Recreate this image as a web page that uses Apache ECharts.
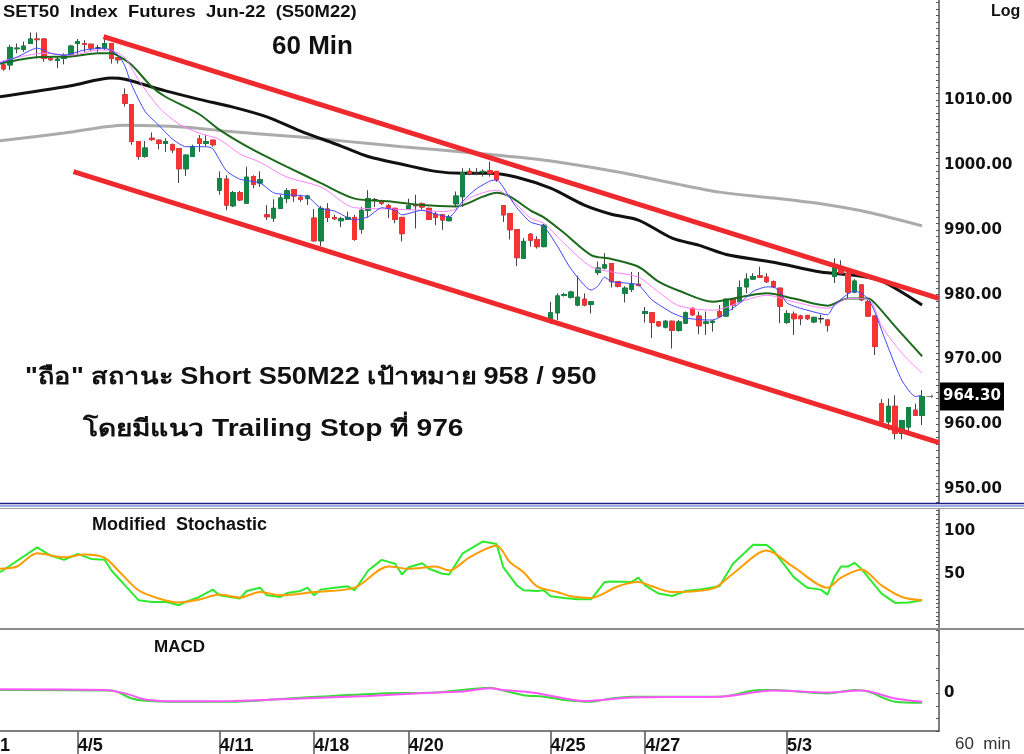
<!DOCTYPE html>
<html><head><meta charset="utf-8">
<script src="https://cdn.jsdelivr.net/npm/echarts@6/dist/echarts.min.js"></script>
<style>html,body{margin:0;padding:0;background:#fff;}#c{width:1024px;height:754px;}</style>
</head><body><div id="c"></div>
<script>
// ---- DATA ----
// hourly candles: [open, close, low, high]
const candles = [
[1015.4,1014.8,1014.5,1016.0],[1015.4,1018.1,1014.6,1018.5],[1017.9,1018.0,1017.2,1018.7],[1017.8,1018.3,1017.4,1019.0],
[1018.7,1019.4,1018.7,1020.4],[1019.4,1019.3,1016.4,1020.4],[1019.4,1016.4,1015.9,1019.5],[1016.4,1016.2,1016.0,1016.6],
[1016.1,1016.3,1014.9,1016.7],[1016.4,1016.9,1015.5,1017.2],[1016.9,1018.3,1016.8,1018.5],[1018.7,1019.0,1017.0,1019.4],
[1018.7,1018.6,1017.4,1019.2],[1018.6,1018.0,1017.5,1018.6],[1018.0,1018.0,1017.4,1018.5],[1018.0,1018.7,1017.7,1019.5],
[1018.7,1016.4,1015.6,1018.8],[1016.5,1016.2,1015.6,1016.6],[1010.8,1009.5,1009.0,1011.8],[1009.3,1003.6,1003.1,1009.4],
[1003.6,1001.3,1000.8,1003.6],[1001.3,1002.6,1001.1,1003.7],[1004.1,1003.9,1003.7,1005.0],[1003.8,1003.3,1002.4,1003.9],
[1003.3,1003.6,1002.0,1004.1],[1003.1,1002.3,1001.8,1003.3],[1002.5,999.4,997.2,1002.6],[999.4,1001.5,998.3,1001.6],
[1001.3,1002.8,1001.2,1003.1],[1004.0,1003.3,1002.0,1004.6],[1003.3,1003.6,1002.9,1004.6],[1003.8,1003.1,1002.8,1003.9],
[996.1,997.9,995.4,999.0],[997.8,993.8,993.0,998.4],[993.7,995.7,993.5,996.0],[995.7,994.6,994.4,996.0],
[994.1,998.1,994.0,999.7],[998.2,997.0,996.4,998.4],[997.2,997.7,996.6,999.0],[992.3,992.0,991.5,993.8],
[991.8,993.3,991.2,994.7],[993.3,994.9,993.2,995.4],[994.8,996.0,994.1,996.4],[996.2,995.2,994.3,996.3],
[995.0,994.7,994.3,995.4],[994.8,995.2,993.8,995.4],[991.8,988.3,988.2,993.2],[988.3,993.3,987.5,993.7],
[993.2,991.9,991.2,994.1],[991.9,991.7,991.5,992.3],[991.4,991.7,990.4,992.0],[991.6,991.9,991.5,992.8],
[991.9,988.5,988.3,992.3],[990.1,993.0,989.4,993.5],[993.0,994.8,991.9,996.1],[994.6,994.6,993.5,994.9],
[994.4,994.1,993.8,994.6],[993.7,993.3,991.8,994.0],[993.3,991.6,991.0,993.4],[991.9,989.4,988.2,992.0],
[993.2,993.7,993.1,994.8],[993.8,993.7,990.2,995.4],[994.0,993.5,993.1,994.2],[993.3,991.6,991.5,993.4],
[992.4,991.9,990.7,992.8],[992.3,991.5,990.0,992.4],[991.4,991.9,991.3,992.3],[994.0,995.2,993.5,995.9],
[995.1,998.8,993.5,999.5],[999.0,998.7,998.4,999.5],[998.8,998.8,998.4,999.5],[998.9,999.0,998.2,999.3],
[999.1,998.7,998.2,1000.5],[999.0,997.7,997.4,999.0],[993.7,992.3,991.2,993.7],[992.5,990.0,988.5,992.6],
[990.0,985.7,984.4,990.0],[985.6,988.2,985.5,988.7],[989.3,988.4,987.4,989.5],[988.5,987.4,987.1,989.0],
[987.4,990.7,987.3,990.9],[976.1,977.2,975.5,978.9],[977.2,979.8,976.1,980.2],[979.9,980.0,979.7,980.3],
[979.6,980.4,979.4,980.6],[978.4,979.6,978.2,982.9],[979.3,978.4,978.2,980.2],[978.5,978.9,977.1,979.0],
[983.4,984.1,983.0,985.1],[984.1,984.6,983.9,986.4],[984.8,982.0,981.1,984.9],[982.0,981.3,981.1,982.0],
[980.2,981.0,978.8,981.3],[980.8,981.6,980.4,983.5],[981.6,981.4,981.3,983.5],[977.1,977.4,975.7,978.1],
[977.2,975.7,973.3,977.3],[975.8,975.2,975.0,975.9],[975.0,975.9,974.8,976.1],[975.9,974.5,971.7,976.0],
[974.5,975.8,974.3,976.1],[975.6,977.2,975.5,977.4],[977.9,976.9,976.7,978.0],[976.7,975.2,973.9,977.4],
[975.6,975.8,973.8,977.4],[975.7,975.9,974.3,976.1],[977.4,976.6,976.5,978.4],[976.7,979.3,976.6,979.4],
[979.3,978.4,977.6,979.4],[978.9,981.1,978.8,982.2],[981.2,982.4,980.2,983.3],[982.4,982.8,982.3,983.3],
[982.9,982.7,982.6,984.3],[982.7,982.0,981.8,983.3],[982.0,981.2,981.0,982.2],[981.0,978.2,975.6,981.0],
[975.7,977.1,975.5,977.6],[977.0,976.3,973.8,977.4],[976.7,976.3,975.3,976.9],[976.8,976.3,976.1,976.9],
[975.8,976.5,975.6,976.6],[976.3,976.3,975.6,976.9],[976.1,975.3,974.3,976.2],[982.8,984.3,981.8,985.6],
[984.2,983.3,983.0,985.3],[983.3,980.4,979.4,983.5],[980.4,982.1,980.2,982.4],[981.5,979.2,979.0,981.6],
[978.9,976.7,976.6,979.2],[976.7,972.0,970.7,976.8],[963.2,960.4,960.3,963.9],[960.4,962.8,959.1,964.0],
[962.8,958.6,957.7,964.5],[958.6,960.6,957.7,960.7],[959.6,962.6,958.9,962.7],[962.2,961.4,961.4,963.2],
[961.4,964.3,959.9,965.3]
];
const lastPrice = 964.30;

// date labels on the time axis (bar index where the day starts)
const dayIndex  = [11, 32, 46, 60, 81, 95, 116];
const dayLabels = ['4/5','4/11','4/18','4/20','4/25','4/27','5/3'];

// moving averages [barIndex, value]  (-0.5 = left edge of the plot)
const maGray  = [[-0.5,1003.7],[9,1004.9],[18,1006.1],[27,1005.8],[34,1005.1],[44,1004.3],[50,1003.7],[59,1002.8],[68,1002.0],[76,1001.2],[83,1000.3],[91,998.9],[99,997.2],[106,995.8],[114,994.9],[121,994.0],[128,992.7],[136,990.6]];
const maBlack = [[-0.5,1010.5],[10,1012.2],[16,1013.4],[18,1013.2],[24,1011.4],[29,1010.1],[34,1008.9],[39,1007.4],[44,1005.2],[50,1002.9],[54,1001.3],[59,1000.1],[64,999.0],[68,998.7],[72,998.7],[76,998.1],[81,996.4],[86,993.8],[90,992.4],[94,991.5],[99,988.7],[103,987.6],[107,986.2],[114,985.0],[121,983.5],[126,983.0],[130,982.1],[136,978.4]];
const maGreen = [[-0.5,1015.6],[5,1016.6],[10,1016.7],[14,1017.2],[16,1017.2],[17,1016.8],[19,1015.4],[22,1012.0],[24,1010.5],[29,1007.8],[32,1005.4],[37,1002.3],[42,999.7],[47,997.2],[52,994.8],[57,994.4],[62,993.8],[67,993.6],[71,995.1],[73,995.7],[75,995.1],[78,993.0],[80,991.9],[83,989.5],[87,986.1],[90,985.5],[94,984.3],[97,982.0],[100,980.6],[105,978.9],[110,979.8],[113,980.2],[117,979.4],[122,978.3],[125,979.4],[128,979.4],[129,978.7],[132,975.1],[136,970.5]];
const maPink  = [[-0.5,1015.9],[6,1017.2],[10,1016.9],[14,1017.7],[16,1017.6],[18,1016.5],[20,1013.1],[23,1008.9],[26,1006.3],[29,1004.9],[32,1003.9],[35,1001.7],[38,1000.4],[42,998.1],[47,996.6],[52,993.4],[57,993.2],[62,993.0],[65,992.8],[67,993.2],[69,994.9],[73,996.1],[75,994.9],[78,991.8],[80,991.0],[83,987.9],[87,984.3],[90,983.5],[94,982.7],[97,980.4],[100,978.3],[105,977.6],[110,979.2],[113,979.9],[117,978.9],[122,977.9],[125,979.4],[128,979.3],[130,975.2],[133,971.0],[136,967.9]];
const maBlue  = [[-0.5,1015.7],[2,1016.6],[5,1018.0],[7,1017.2],[9,1016.9],[12,1017.7],[15,1018.0],[17,1016.9],[18,1015.2],[19,1012.3],[21,1008.2],[23,1006.1],[25,1004.0],[27,1002.8],[30,1002.8],[31,1002.5],[33,999.1],[35,997.8],[38,997.2],[40,995.7],[42,995.4],[45,995.1],[47,993.3],[49,992.9],[52,991.5],[54,992.0],[56,993.4],[58,993.0],[59,992.3],[62,993.0],[64,992.4],[66,992.0],[68,994.4],[70,996.3],[72,997.5],[73,997.7],[75,994.9],[76,993.4],[78,991.2],[80,990.5],[82,987.5],[84,984.0],[87,980.7],[88,981.3],[89,982.7],[90,982.0],[92,981.8],[94,981.5],[96,979.2],[99,977.2],[101,976.4],[104,976.1],[105,976.1],[109,978.7],[111,980.5],[113,981.2],[114,981.2],[115,980.3],[116,978.7],[118,977.9],[122,976.9],[123,978.4],[125,980.1],[126,980.6],[128,979.4],[129,977.3],[131,971.8],[133,966.8],[135,964.3],[136,964.5]];

// trend channel [barIndex, price]
const upperChannel = [[14.83,1019.75],[138.47,979.43]];
const lowerChannel = [[10.38,998.95],[138.5,957.2]];

// Modified Stochastic [barIndex, value]
const stochK = [[-0.5,51.9],[1,59.8],[5,81.2],[7,71.5],[9,66.5],[11,73.5],[13,67.6],[15,66.5],[16,53.9],[18,36.3],[20,18.8],[22,16.8],[24,16.8],[26,12.9],[27,16.8],[29,22.6],[31,31.3],[32,24.6],[35,20.8],[36,29.7],[38,33.6],[39,24.6],[41,22.6],[42,27.3],[44,29.7],[45,33.6],[46,24.6],[47,31.3],[49,33.6],[51,35.2],[52,30.5],[54,53.9],[56,66.5],[58,61.8],[59,49.2],[60,57.8],[62,62.5],[63,55.9],[65,50.1],[66,49.2],[68,74.2],[71,88.3],[73,85.2],[74,57.8],[76,36.3],[77,30.5],[79,29.7],[80,30.5],[81,23.4],[83,21.5],[85,19.9],[87,19.9],[89,40.2],[90,41.0],[93,40.2],[94,45.4],[95,36.3],[97,26.6],[99,23.8],[101,29.7],[103,31.3],[106,35.2],[108,61.8],[111,84.4],[113,84.1],[114,77.4],[117,46.1],[119,33.6],[121,31.3],[122,25.4],[123,46.1],[124,58.6],[125,58.6],[126,63.0],[127,55.9],[130,26.6],[132,15.6],[134,16.1],[136,18.8]];
const stochD = [[-0.5,55.9],[2,58.6],[5,74.2],[9,69.5],[12,72.7],[15,68.8],[17,53.9],[20,30.5],[23,20.8],[26,16.1],[29,19.6],[32,25.4],[35,21.9],[38,28.5],[41,24.6],[46,28.5],[52,33.6],[57,58.6],[60,55.9],[64,58.6],[66,53.9],[69,69.5],[73,83.2],[75,63.7],[77,51.9],[79,35.2],[82,28.5],[84,23.4],[87,21.5],[91,35.2],[94,40.2],[96,35.2],[99,28.5],[105,32.5],[108,50.1],[113,77.4],[117,57.8],[122,33.6],[124,45.4],[127,55.1],[130,36.3],[133,22.6],[136,18.8]];

// MACD [barIndex, value]
const macdLine   = [[-0.5,1.2],[16,1.0],[19,-2.1],[21,-3.0],[25,-3.4],[34,-3.4],[44,-1.8],[56,-0.1],[64,0.2],[72,2.1],[74,1.0],[77,-0.8],[80,-1.4],[83,-2.7],[87,-3.4],[90,-2.1],[93,-1.4],[106,-1.4],[112,1.2],[114,1.2],[122,-0.1],[126,1.2],[128,0.6],[132,-3.4],[136,-3.8]];
const macdSignal = [[-0.5,1.5],[15,1.2],[18,-0.1],[21,-2.5],[25,-3.2],[34,-3.1],[44,-2.1],[54,-1.1],[61,-0.1],[68,0.6],[72,1.9],[74,1.2],[77,0.6],[80,-0.5],[86,-3.1],[93,-1.7],[106,-1.4],[114,1.0],[122,0.2],[127,1.0],[132,-2.1],[136,-3.4]];

// axis labels
const priceLabels = [950, 960, 970, 980, 990, 1000, 1010];
const stochLabels = [50, 100];
const macdLabels  = [0];

// ---- CHART ----
const N = 139; // bar slots on the time axis
const cats = Array.from({length: N}, (_, i) => 'b' + i);
const labelAt = {};
dayIndex.forEach((d, k) => { labelAt[d] = dayLabels[k]; });
const isDay = (i) => labelAt[i] !== undefined;
function steps(a, b, s) { const r = []; for (let v = a; v <= b + 1e-9; v += s) r.push(+v.toFixed(3)); return r; }

const FONT = "'Liberation Sans', Arial, 'Noto Sans', sans-serif";
const AXF = "'DejaVu Sans', sans-serif";
const AX = '#555';

const chart = echarts.init(document.getElementById('c'), null, {renderer: 'canvas'});

function lineS(data, xi, yi, color, width, z, smooth) {
  return {type: 'line', data, xAxisIndex: xi, yAxisIndex: yi, showSymbol: false, symbol: 'none',
    smooth: smooth || false, z, silent: true, lineStyle: {color, width}, itemStyle: {color}};
}
function yAx(grid, min, max, ticks, labels, fmt) {
  return {type: 'value', gridIndex: grid, position: 'right', min, max,
    axisLine: {show: true, onZero: false, lineStyle: {color: AX, width: 1.5}},
    axisTick: {show: true, inside: true, length: 3, customValues: ticks, lineStyle: {color: AX, width: 1}},
    axisLabel: {show: true, customValues: labels, formatter: fmt, margin: 5, color: '#111',
      fontWeight: 'bold', fontSize: 15, fontFamily: AXF},
    splitLine: {show: false}};
}

const option = {
  animation: false,
  backgroundColor: '#ffffff',
  grid: [
    {left: 0, right: 85, top: 0, height: 503, outerBoundsMode: 'none'},
    {left: 0, right: 85, top: 509, height: 119, outerBoundsMode: 'none'},
    {left: 0, right: 85, top: 630, height: 101, outerBoundsMode: 'none'}
  ],
  xAxis: [
    {type: 'category', gridIndex: 0, data: cats, boundaryGap: true, show: false},
    {type: 'value', gridIndex: 0, min: -0.5, max: N - 0.5, show: false},
    {type: 'value', gridIndex: 1, min: -0.5, max: N - 0.5, show: false},
    {type: 'category', gridIndex: 2, data: cats, boundaryGap: true, position: 'bottom',
      axisLine: {show: true, onZero: false, lineStyle: {color: AX, width: 1.5}},
      axisTick: {show: true, alignWithLabel: true, interval: (i) => isDay(i), length: 23, lineStyle: {color: AX, width: 1.5}},
      axisLabel: {show: true, interval: (i) => isDay(i), formatter: (v, i) => labelAt[i] || '',
        align: 'left', margin: 6, color: '#111', fontWeight: 'bold', fontSize: 18, fontFamily: FONT},
      splitLine: {show: false}},
    {type: 'value', gridIndex: 2, min: -0.5, max: N - 0.5, show: false}
  ],
  yAxis: [
    yAx(0, 947.89, 1025.41, steps(948, 1025, 1), priceLabels, (v) => Number(v).toFixed(2)),
    yAx(1, -14.07, 126.6, steps(-10, 125, 5), stochLabels, (v) => String(Math.round(v))),
    yAx(2, -15, 25, steps(-15, 25, 5), macdLabels, (v) => String(Math.round(v)))
  ],
  series: [
    lineS(maGray, 1, 0, '#ababab', 3, 2, 0.3),
    lineS(maBlack, 1, 0, '#111111', 3, 2, 0.3),
    {type: 'candlestick', xAxisIndex: 0, yAxisIndex: 0, data: candles, barWidth: 5, z: 3, silent: true,
      itemStyle: {color: '#444', color0: '#444', borderColor: '#444', borderColor0: '#444', borderColorDoji: '#444', borderWidth: 1}},
    {type: 'candlestick', xAxisIndex: 0, yAxisIndex: 0, z: 4, silent: true, barWidth: 5,
      data: candles.map(d => [d[0], d[1], Math.min(d[0], d[1]), Math.max(d[0], d[1])]),
      itemStyle: {color: '#138545', color0: '#f73333', borderColor: '#138545', borderColor0: '#f73333', borderColorDoji: '#333', borderWidth: 1}},
    lineS(maGreen, 1, 0, '#1d6a1d', 2, 5, 0.3),
    lineS(maPink, 1, 0, '#ff82ff', 1, 5, 0.3),
    lineS(maBlue, 1, 0, '#3c46ff', 1, 5, 0.2),
    lineS(upperChannel, 1, 0, '#ee2a2e', 5, 6),
    lineS(lowerChannel, 1, 0, '#ee2a2e', 5, 6),
    lineS(stochK, 2, 1, '#2eea2e', 2, 3),
    lineS(stochD, 2, 1, '#ff9c00', 2, 4, 0.3),
    lineS(macdLine, 4, 2, '#33dd33', 2, 3, 0.3),
    lineS(macdSignal, 4, 2, '#ff55ff', 2, 4, 0.3)
  ]
};
chart.setOption(option);

const py = chart.convertToPixel({yAxisIndex: 0}, lastPrice);
const txt = (x, y, text, font, fill, align, va, sx) => ({type: 'text', x, y, scaleX: sx || 1, silent: true, z: 100,
  style: {text, font, fill: fill || '#111', align: align || 'left', verticalAlign: va || 'middle'}});
const ln = (x1, y1, x2, y2, stroke, w) => ({type: 'line', silent: true, z: 90,
  shape: {x1, y1, x2, y2}, style: {stroke, lineWidth: w}});

chart.setOption({
  graphic: [
    ln(0, 503.5, 1024, 503.5, '#1c1c84', 1.6),
    ln(0, 506, 1024, 506, '#3f55d0', 1),
    ln(0, 508.5, 1024, 508.5, '#a0a0a0', 1.2),
    ln(0, 629, 1024, 629, '#8c8c8c', 2),
    txt(3, 12, 'SET50  Index  Futures  Jun-22  (S50M22)', 'bold 17px ' + FONT, '#111', 'left', 'middle', 1.085),
    txt(272, 47, '60 Min', 'bold 26px ' + FONT),
    txt(991, 12, 'Log', 'bold 16px ' + FONT),
    txt(25, 378, '"ถือ" สถานะ Short S50M22 เป้าหมาย 958 / 950', 'bold 23px ' + FONT, '#111', 'left', 'middle', 1.18),
    txt(83, 430, 'โดยมีแนว Trailing Stop ที่ 976', 'bold 23px ' + FONT, '#111', 'left', 'middle', 1.224),
    txt(92, 525, 'Modified  Stochastic', 'bold 18px ' + FONT),
    txt(154, 647, 'MACD', 'bold 17px ' + FONT),
    txt(955, 744, '60  min', '17px ' + FONT, '#333'),
    txt(-15, 737, '4/1', 'bold 18px ' + FONT, '#111', 'left', 'top'),
    {type: 'rect', silent: true, z: 100, shape: {x: 940, y: py - 14, width: 64, height: 28}, style: {fill: '#000'}},
    txt(943, py, lastPrice.toFixed(2), 'bold 15px ' + AXF, '#fff'),
    txt(926, py, '→', '9px ' + AXF, '#555')
  ]
});
</script>
</body></html>
